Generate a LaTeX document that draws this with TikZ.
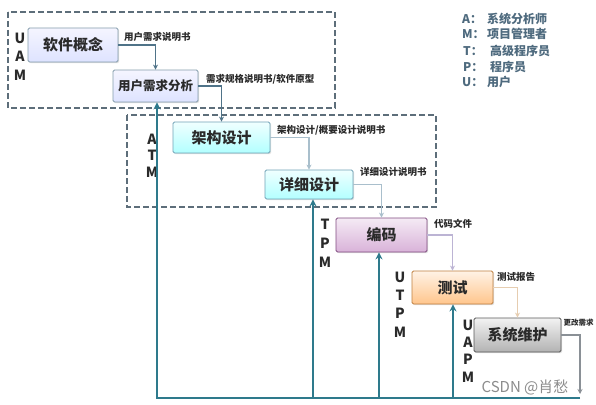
\documentclass[tikz,border=0pt]{standalone}
\usepackage{fontspec}
\setmainfont{Noto Sans CJK SC}
\usetikzlibrary{arrows.meta,shadows}
\definecolor{dashc}{HTML}{5D6E7A}
\definecolor{teal2}{HTML}{2E7A8C}
\definecolor{c12}{HTML}{4F7388}
\definecolor{c34}{HTML}{A9BFCC}
\definecolor{c5}{HTML}{BCB4D4}
\definecolor{c6}{HTML}{E6CDB0}
\definecolor{c7}{HTML}{8A9096}
\definecolor{legc}{HTML}{4E6A7E}
\definecolor{txt}{HTML}{2A2A2A}
\begin{document}
\begin{tikzpicture}[x=1pt,y=1pt,
  box/.style={draw, rounded corners=1.5pt, line width=0.8pt, inner sep=0pt,
    font=\bfseries\fontsize{15}{15}\selectfont, text=txt,
    drop shadow={opacity=0.25, shadow xshift=1.2pt, shadow yshift=-1.2pt}},
  bluebox/.style={box, draw=c12!70, top color=blue!4, bottom color=blue!30!cyan!10!white!75!blue!40},
  cyanbox/.style={box, draw=cyan!40!gray, top color=cyan!6, bottom color=cyan!30},
  purpbox/.style={box, draw=violet!40!gray, top color=violet!8, bottom color=violet!30},
  orbox/.style={box, draw=orange!50!gray, top color=orange!10, bottom color=orange!45},
  graybox/.style={box, draw=black!65, top color=black!5, bottom color=black!30},
  lab/.style={anchor=west, inner sep=0pt, font=\bfseries\fontsize{9.5}{9.5}\selectfont, text=txt},
  letters/.style={align=center, inner sep=0pt, text=txt},
  conn/.style={line width=1.2pt, -{Stealth[length=5pt,width=5pt]}},
  fb/.style={draw=teal2, line width=2pt, -{Stealth[length=7pt,width=7pt]}},
  dashbox/.style={draw=dashc, line width=1.6pt, dash pattern=on 6pt off 3pt},
  leg/.style={anchor=west, inner sep=0pt, text=legc, font=\bfseries\fontsize{12}{12}\selectfont}
]
\useasboundingbox (0,0) rectangle (596,-404);
\fill[white] (0,0) rectangle (596,-404);

% dashed groups
\draw[dashbox] (8,-12) rectangle (335,-108);
\draw[dashbox] (127,-115) rectangle (436,-207);

% boxes
\node[bluebox, minimum width=90pt, minimum height=34pt] (gn) at (73,-45) {软件概念};
\node[bluebox, minimum width=85pt, minimum height=32pt, font=\bfseries\fontsize{12.5}{12.5}\selectfont] (xq) at (155.5,-86) {用户需求分析};
\node[cyanbox, minimum width=97pt, minimum height=31pt] (jg) at (221.5,-137.5) {架构设计};
\node[cyanbox, minimum width=88pt, minimum height=29pt] (xx) at (309,-184.5) {详细设计};
\node[purpbox, minimum width=91pt, minimum height=34pt] (bm) at (381.5,-235) {编码};
\node[orbox, minimum width=81pt, minimum height=33pt] (cs) at (452.5,-287.5) {测试};
\node[graybox, minimum width=87pt, minimum height=34pt] (wh) at (517.5,-335) {系统维护};

% role letters
\node[letters, font=\bfseries\fontsize{14}{18.5}\selectfont] (r1) at (20,-56.5) {U\\A\\M};
\node[letters, font=\bfseries\fontsize{14}{16.5}\selectfont] (r2) at (152,-155.5) {A\\T\\M};
\node[letters, font=\bfseries\fontsize{14}{19}\selectfont] (r3) at (325,-243) {T\\P\\M};
\node[letters, font=\bfseries\fontsize{14}{18.3}\selectfont] (r4) at (400,-304.5) {U\\T\\P\\M};
\node[letters, font=\bfseries\fontsize{14}{17.3}\selectfont] (r5) at (468,-351) {U\\A\\P\\M};

% forward connectors
\draw[conn, c12] (gn.east) -| (xq.north);
\draw[conn, c12] (xq.east) -| (jg.north);
\draw[conn, c34] (jg.east) -| (xx.north);
\draw[conn, c34] (xx.east) -| (bm.north);
\draw[conn, c5] (bm.east) -| (cs.north);
\draw[conn, c6] (cs.east) -| (wh.north);
\coordinate (wend) at (580,-394);
\draw[conn, c7] (wh.east) -| (wend);

% connector labels
\node[lab] (l1) at (124,-37) {用户需求说明书};
\node[lab] (l2) at (206,-79) {需求规格说明书/软件原型};
\node[lab] (l3) at (277,-130) {架构设计/概要设计说明书};
\node[lab] (l4) at (360,-172) {详细设计说明书};
\node[lab] (l5) at (434,-224) {代码文件};
\node[lab] (l6) at (497,-277) {测试报告};
\node[lab, font=\bfseries\fontsize{7.5}{7.5}\selectfont] (l7) at (563.5,-323) {更改需求};

% feedback lines
\coordinate (br) at (580,-398);
\coordinate (b1) at (157,-398);
\coordinate (b2) at (313,-398);
\coordinate (b3) at (379,-398);
\coordinate (b4) at (453,-398);
\draw[fb] (br) -- (b1) -- (b1 |- xq.south);
\draw[fb] (b2) -- (b2 |- xx.south);
\draw[fb] (b3) -- (b3 |- bm.south);
\draw[fb] (b4) -- (b4 |- cs.south);

% legend
\node[leg] (la) at (462,-19) {A：};
\node[leg] (ma) at (462,-34) {M：};
\node[leg] (ta) at (463,-51) {T：};
\node[leg] (pa) at (463,-67) {P：};
\node[leg] (ua) at (462,-82) {U：};
\node[leg] (lb) at (487,-19) {系统分析师};
\node[leg] (mb) at (487,-34) {项目管理者};
\node[leg] (tb) at (490,-51) {高级程序员};
\node[leg] (pb) at (490,-67) {程序员};
\node[leg] (ub) at (487,-82) {用户};

% watermark
\node[inner sep=0pt, text=black!45, font=\fontsize{15}{15}\selectfont] (wm) at (525,-387) {CSDN @肖愁};
\end{tikzpicture}
\end{document}
